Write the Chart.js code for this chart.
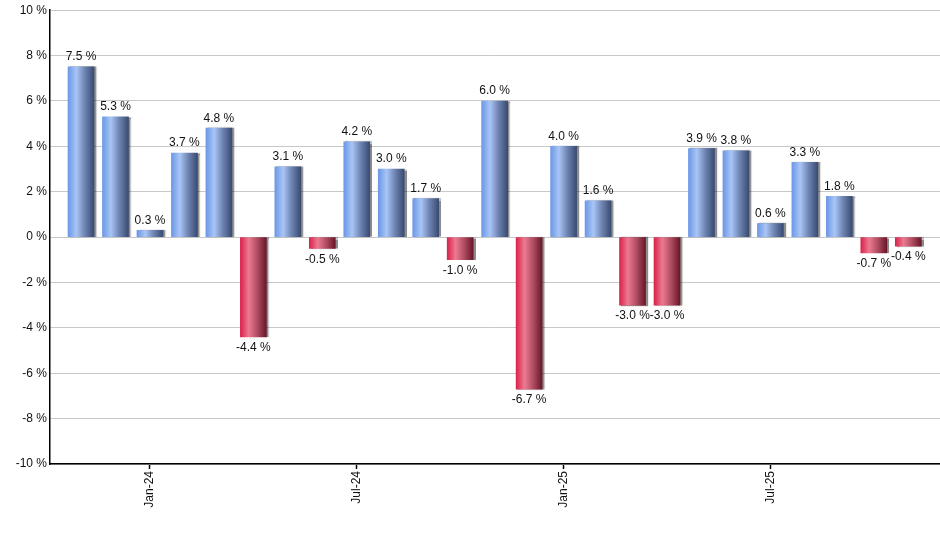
<!DOCTYPE html>
<html>
<head>
<meta charset="utf-8">
<script src="https://cdn.jsdelivr.net/npm/chart.js@4"></script>
<style>
  html, body { margin: 0; padding: 0; background: #fff; }
  #wrap { width: 940px; height: 550px; }
</style>
</head>
<body>
<div id="wrap"><canvas id="chart" width="940" height="550"></canvas></div>
<script>
// monthly returns, Nov-23 .. Nov-25
const months = [
  "Nov-23", "Dec-23", "Jan-24", "Feb-24", "Mar-24", "Apr-24", "May-24", "Jun-24",
  "Jul-24", "Aug-24", "Sep-24", "Oct-24", "Nov-24", "Dec-24", "Jan-25", "Feb-25",
  "Mar-25", "Apr-25", "May-25", "Jun-25", "Jul-25", "Aug-25", "Sep-25", "Oct-25", "Nov-25"
];
const returns = [
  7.5, 5.3, 0.3, 3.7, 4.8, -4.4, 3.1, -0.5, 4.2, 3.0, 1.7, -1.0, 6.0,
  -6.7, 4.0, 1.6, -3.0, -3.0, 3.9, 3.8, 0.6, 3.3, 1.8, -0.7, -0.4
];
const tickMonths = ["Jan-24", "Jul-24", "Jan-25", "Jul-25"];
const yTicks = [-10, -8, -6, -4, -2, 0, 2, 4, 6, 8, 10];

const BAR_W = 26;
const FONT = "'Liberation Sans', Arial, sans-serif";

// horizontal shaded gradient per bar
function barFill(context) {
  const chart = context.chart;
  const xs = chart.scales.x;
  const raw = context.raw;
  if (!xs || !raw) return "#7fa3e6";
  const px = xs.getPixelForValue(raw.x);
  if (!isFinite(px)) return raw.y >= 0 ? "#7fa3e6" : "#d0445f";
  const g = chart.ctx.createLinearGradient(px - BAR_W / 2, 0, px + BAR_W / 2, 0);
  if (raw.y >= 0) {
    g.addColorStop(0, "#6b98e6");
    g.addColorStop(0.32, "#a9c5f6");
    g.addColorStop(0.65, "#6d83b0");
    g.addColorStop(1, "#394b73");
  } else {
    g.addColorStop(0, "#d9234b");
    g.addColorStop(0.32, "#ec7a91");
    g.addColorStop(0.65, "#b04d63");
    g.addColorStop(1, "#6a1628");
  }
  return g;
}

const barShadow = {
  id: "barShadow",
  beforeDatasetDraw(chart) {
    const ctx = chart.ctx;
    ctx.save();
    ctx.shadowColor = "rgba(0,0,0,0.45)";
    ctx.shadowOffsetX = 2;
    ctx.shadowOffsetY = 0;
    ctx.shadowBlur = 1;
  },
  afterDatasetDraw(chart) {
    chart.ctx.restore();
  }
};

const valueLabels = {
  id: "valueLabels",
  afterDatasetsDraw(chart) {
    const ctx = chart.ctx;
    const meta = chart.getDatasetMeta(0);
    ctx.save();
    ctx.font = "12px " + FONT;
    ctx.fillStyle = "#111";
    ctx.textAlign = "center";
    meta.data.forEach((bar, i) => {
      const v = returns[i];
      const txt = v.toFixed(1) + " %";
      if (v >= 0) {
        ctx.textBaseline = "bottom";
        ctx.fillText(txt, bar.x, bar.y - 4);
      } else {
        ctx.textBaseline = "top";
        ctx.fillText(txt, bar.x, bar.y + 5);
      }
    });
    ctx.restore();
  }
};

const points = returns.map((v, i) => ({ x: i, y: v }));

new Chart(document.getElementById("chart"), {
  type: "bar",
  data: {
    datasets: [{
      data: points,
      backgroundColor: barFill,
      borderWidth: 0,
      barThickness: BAR_W
    }]
  },
  options: {
    responsive: false,
    animation: false,
    layout: { padding: { top: 9, right: 0, left: 0, bottom: 0 } },
    plugins: {
      legend: { display: false },
      tooltip: { enabled: false }
    },
    scales: {
      x: {
        type: "linear",
        offset: false,
        min: -0.9,
        max: 24.92,
        afterBuildTicks(scale) {
          scale.ticks = tickMonths.map(m => ({ value: months.indexOf(m) }));
        },
        afterFit(scale) { scale.height = 86; },
        border: { display: true, color: "#000", width: 1.5 },
        grid: {
          display: true,
          offset: false,
          drawOnChartArea: false,
          drawTicks: true,
          tickLength: 5,
          tickColor: "#000",
          tickWidth: 1.5
        },
        ticks: {
          autoSkip: false,
          minRotation: 90,
          maxRotation: 90,
          padding: 2,
          color: "#111",
          font: { family: FONT, size: 12 },
          callback: v => months[v]
        }
      },
      y: {
        min: -10,
        max: 10,
        afterBuildTicks(scale) {
          scale.ticks = yTicks.map(v => ({ value: v }));
        },
        afterFit(scale) { scale.width = 50; },
        border: { display: true, color: "#000", width: 1.5 },
        grid: {
          color: "#c8c8c8",
          lineWidth: 1,
          drawTicks: false
        },
        ticks: {
          padding: 3,
          color: "#111",
          font: { family: FONT, size: 12 },
          callback: v => v + " %"
        }
      }
    }
  },
  plugins: [barShadow, valueLabels]
});
</script>
</body>
</html>
